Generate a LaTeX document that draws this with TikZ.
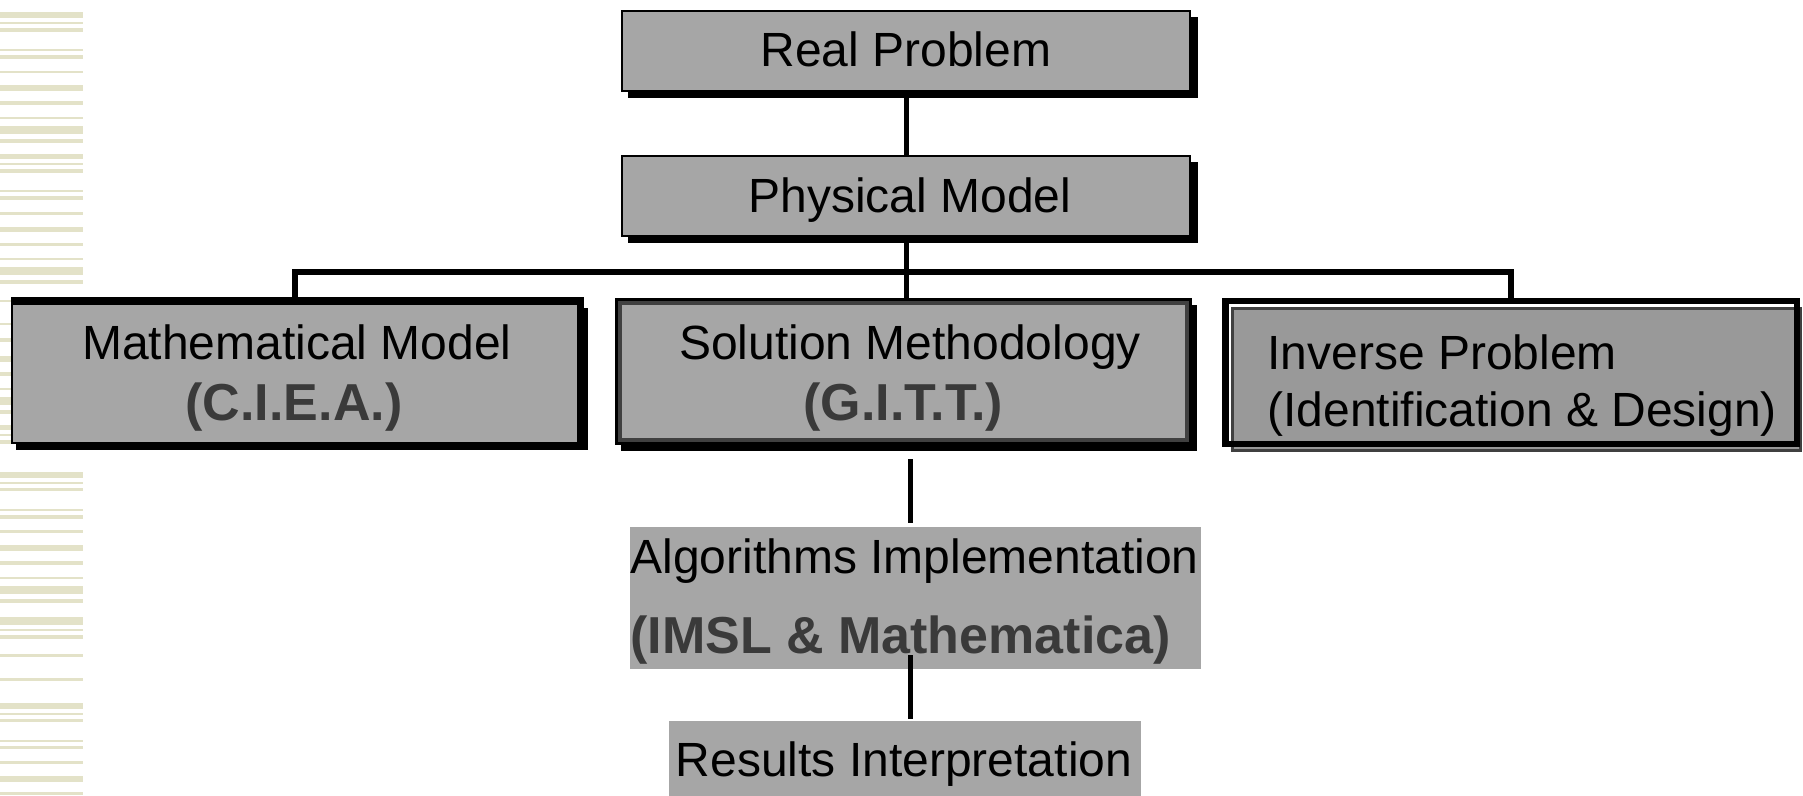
\documentclass[tikz,border=0pt]{standalone}
\usepackage{fontspec}
\setmainfont{Liberation Sans}
\usetikzlibrary{fit}
\definecolor{stripec}{RGB}{227,226,200}
\definecolor{boxgray}{RGB}{166,166,166}
\definecolor{invgray}{RGB}{153,153,153}
\definecolor{dkgray}{RGB}{64,64,64}
\definecolor{boldgray}{RGB}{58,58,58}
\begin{document}
\begin{tikzpicture}[x=0.5pt,y=-0.5pt,
  plain/.style={inner sep=0pt, outer sep=0pt},
  gbox/.style={plain, fill=boxgray},
  shadowbox/.style={fill=black},
  conn/.style={draw=black, line width=2.5pt},
  txt/.style={inner sep=0pt, anchor=base, font=\fontsize{24}{29}\selectfont},
  btxt/.style={inner sep=0pt, anchor=base, font=\fontsize{26}{31}\selectfont\bfseries, text=boldgray}
]
\useasboundingbox (0,0) rectangle (1803,796);
\fill[white] (0,0) rectangle (1803,796);
% decorative stripes
\foreach \a/\b in {12/18, 22/24, 28/32, 49/51, 55/59, 71/73, 85/91, 101/105, 117/119, 126/134, 139/143, 154/159, 163/165, 169/173, 190/192, 196/200, 212/215, 227/232, 243/246, 258/260, 267/275, 280/284, 300/302, 323/325, 338/342, 356/362, 372/376, 388/390, 397/405, 410/414, 425/430, 434/436, 440/444, 472/478, 482/484, 488/491, 509/511, 515/519, 530/533, 545/551, 561/565, 577/579, 586/594, 599/603, 617/625, 629/631, 635/639, 654/657, 678/681, 703/709, 713/715, 719/722, 740/742, 746/749, 761/764, 776/782, 792/795}
  \fill[stripec] (0,\a) rectangle (83,\b);

% Real Problem
\fill[shadowbox] (628,17) rectangle (1198,98);
\node[gbox, draw=black, line width=1pt, fit={(622,11) (1190,91)}] (real) {};
% Physical Model
\fill[shadowbox] (628,162) rectangle (1198,243);
\node[gbox, draw=black, line width=1pt, fit={(622,156) (1190,236)}] (phys) {};
% Mathematical Model
\fill[shadowbox] (16,308) rectangle (588,450);
\fill[black] (11,297) rectangle (584,444);
\node[gbox, fit={(13,305) (577,442)}] (math) {};
% Solution Methodology
\fill[shadowbox] (621,305) rectangle (1197,451);
\node[gbox, draw=black, line width=1.5pt, fit={(616.5,299.5) (1190.5,443.5)}] (sol) {};
\draw[dkgray, line width=2pt] ([shift={(3.5,3.5)}]sol.north west) rectangle ([shift={(-3.5,-3.5)}]sol.south east);
% Inverse Problem
\node[plain, fill=invgray, draw=dkgray, line width=1.5pt, fit={(1232.5,308.5) (1800.5,450.5)}] (inv) {};
\node[plain, draw=black, line width=3.25pt, fit={(1225.25,301.25) (1796.75,443.75)}] (invf) {};
% Algorithms / Results
\node[gbox, fit={(630,527) (1201,669)}] (alg) {};
\node[gbox, fit={(669,721) (1141,800)}] (res) {};

% connectors
\coordinate (bus) at (906,272);
\coordinate (cx) at (910,0);
\draw[conn] (real.south) -- (phys.north);
\draw[conn] (phys.south) -- (phys.south |- sol.north);
\draw[conn, line width=2.75pt, line join=miter] (math.north) |- (bus) -| (invf.north);

% texts
\node[txt] (t1) at (906,67) {Real Problem};
\node[txt] (t2) at (910,213) {Physical Model};
\node[txt] (t3) at (297,360) {Mathematical Model};
\node[btxt] (t4) at (294,421) {(C.I.E.A.)};
\node[txt] (t5) at (910,360) {Solution Methodology};
\node[btxt] (t6) at (903,421) {(G.I.T.T.)};
\node[txt, anchor=base west] (t7) at (1267,370) {Inverse Problem};
\node[txt, anchor=base west] (t8) at (1267,426) {(Identification \& Design)};
\node[txt, anchor=base west] (t9) at (630,573) {Algorithms Implementation};
\node[btxt, anchor=base west] (t10) at (630,653) {(IMSL \& Mathematica)};
\node[txt] (t11) at (904,776) {Results Interpretation};

\draw[conn] ([yshift=-7.75pt]sol.south -| cx) -- ([yshift=2pt]alg.north -| cx);
\draw[conn] ([yshift=7pt]alg.south -| cx) -- ([yshift=1pt]res.north -| cx);
\end{tikzpicture}
\end{document}
